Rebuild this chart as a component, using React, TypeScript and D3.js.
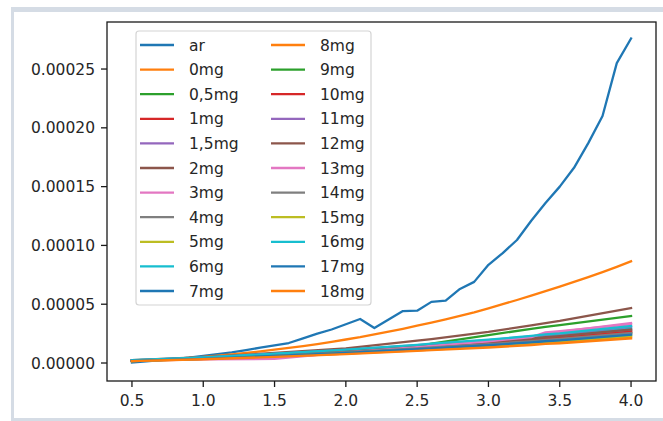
import React from "react";
import * as d3 from "d3";

// x values
const xFine = [0.5, 0.6, 0.7, 0.8, 0.9, 1.0, 1.1, 1.2, 1.3, 1.4, 1.5, 1.6, 1.7, 1.8, 1.9, 2.0, 2.1, 2.2, 2.3, 2.4, 2.5, 2.6, 2.7, 2.8, 2.9, 3.0, 3.1, 3.2, 3.3, 3.4, 3.5, 3.6, 3.7, 3.8, 3.9, 4.0];
const xCoarse = [0.5, 1.0, 1.5, 2.0, 2.5, 2.6, 3.0, 3.3, 3.4, 3.5, 4.0];

// series values
const ar = [0.5e-6, 1.5e-6, 2.5e-6, 3.5e-6, 4.5e-6, 6e-6, 7.5e-6, 9e-6, 11e-6, 13e-6, 15e-6, 17e-6, 21e-6, 25e-6, 28.5e-6, 33e-6, 37.4e-6, 29.8e-6, 37e-6, 44.2e-6, 44.5e-6, 52e-6, 53e-6, 63e-6, 69e-6, 83.5e-6, 93.5e-6, 104.6e-6, 121e-6, 136e-6, 150e-6, 166e-6, 187e-6, 210e-6, 255e-6, 276e-6];
const mg0 = [1.8e-6, 2.3e-6, 2.9e-6, 3.6e-6, 4.4e-6, 5.3e-6, 6.3e-6, 7.4e-6, 8.6e-6, 9.9e-6, 11.3e-6, 12.8e-6, 14.4e-6, 16.1e-6, 18.0e-6, 20.0e-6, 22.0e-6, 24.3e-6, 26.7e-6, 29.1e-6, 31.7e-6, 34.4e-6, 37.2e-6, 40.1e-6, 43.1e-6, 46.5e-6, 50.0e-6, 53.6e-6, 57.3e-6, 61.1e-6, 65.0e-6, 69.0e-6, 73.1e-6, 77.3e-6, 81.8e-6, 86.5e-6];
const mg05 = [2e-6, 4e-6, 6.5e-6, 9.5e-6, 13.5e-6, 16.5e-6, 23.8e-6, 29e-6, 30.8e-6, 32.3e-6, 40e-6];
const mg1 = [2e-6, 4e-6, 6.8e-6, 9.7e-6, 13.2e-6, 14e-6, 17e-6, 19.7e-6, 20.8e-6, 21.6e-6, 27e-6];
const mg15 = [2.1e-6, 4.3e-6, 7.2e-6, 10.4e-6, 14.2e-6, 15.1e-6, 18.3e-6, 21.2e-6, 22.3e-6, 23.2e-6, 29e-6];
const mg2 = [2.5e-6, 5e-6, 8.5e-6, 12.5e-6, 19e-6, 20.3e-6, 26.5e-6, 32e-6, 34e-6, 35.8e-6, 46.8e-6];
const mg3 = [2e-6, 3.5e-6, 5.5e-6, 8e-6, 12e-6, 12.8e-6, 17e-6, 20e-6, 25.5e-6, 26.5e-6, 34e-6];
const mg4 = [2e-6, 4.2e-6, 7e-6, 10e-6, 13.7e-6, 14.6e-6, 17.6e-6, 20.4e-6, 21.6e-6, 22.4e-6, 28e-6];
const mg5 = [1.8e-6, 3.6e-6, 6e-6, 8.6e-6, 11.8e-6, 12.5e-6, 15.1e-6, 17.5e-6, 18.5e-6, 19.2e-6, 24e-6];
const mg6 = [2.2e-6, 4.5e-6, 7.5e-6, 10.8e-6, 14.7e-6, 15.6e-6, 18.9e-6, 21.9e-6, 23.1e-6, 24e-6, 30e-6];
const mg7 = [1.9e-6, 3.8e-6, 6.2e-6, 9e-6, 12.2e-6, 13e-6, 15.8e-6, 18.2e-6, 19.2e-6, 20e-6, 25e-6];
const mg8 = [1.7e-6, 3.3e-6, 5.5e-6, 7.9e-6, 10.8e-6, 11.4e-6, 13.9e-6, 16e-6, 16.9e-6, 17.6e-6, 22e-6];
const mg9 = [1.9e-6, 3.9e-6, 6.5e-6, 9.4e-6, 12.7e-6, 13.5e-6, 16.4e-6, 19e-6, 20e-6, 20.8e-6, 26e-6];
const mg10 = [2e-6, 4e-6, 6.6e-6, 9.5e-6, 13e-6, 13.8e-6, 16.7e-6, 19.3e-6, 20.4e-6, 21.2e-6, 26.5e-6];
const mg11 = [2.3e-6, 4.6e-6, 7.7e-6, 11.1e-6, 15.2e-6, 16.1e-6, 19.5e-6, 22.6e-6, 23.9e-6, 24.8e-6, 31e-6];
const mg12 = [2.1e-6, 4.3e-6, 7.1e-6, 10.3e-6, 14e-6, 14.8e-6, 18e-6, 20.8e-6, 21.9e-6, 22.8e-6, 28.5e-6];
const mg13 = [1.9e-6, 3.2e-6, 3.5e-6, 9e-6, 13.5e-6, 14.5e-6, 18.5e-6, 22e-6, 26e-6, 27e-6, 33e-6];
const mg14 = [1.9e-6, 3.8e-6, 6.4e-6, 9.2e-6, 12.5e-6, 13.3e-6, 16.1e-6, 18.6e-6, 19.6e-6, 20.4e-6, 25.5e-6];
const mg15b = [1.7e-6, 3.5e-6, 5.8e-6, 8.3e-6, 11.3e-6, 12e-6, 14.5e-6, 16.8e-6, 17.7e-6, 18.4e-6, 23e-6];
const mg16 = [2.4e-6, 4.7e-6, 7.9e-6, 11.3e-6, 15.4e-6, 16.4e-6, 19.8e-6, 23e-6, 24.3e-6, 25.2e-6, 31.5e-6];
const mg17 = [1.8e-6, 3.6e-6, 6e-6, 8.6e-6, 11.8e-6, 12.5e-6, 15.1e-6, 17.5e-6, 18.5e-6, 19.2e-6, 24e-6];
const mg18 = [1.6e-6, 3.2e-6, 5.2e-6, 7.6e-6, 10.3e-6, 10.9e-6, 13.2e-6, 15.3e-6, 16.2e-6, 16.8e-6, 21e-6];

const seriesNames = ["ar", "0mg", "0,5mg", "1mg", "1,5mg", "2mg", "3mg", "4mg", "5mg", "6mg", "7mg", "8mg", "9mg", "10mg", "11mg", "12mg", "13mg", "14mg", "15mg", "16mg", "17mg", "18mg"];
const seriesValues = [ar, mg0, mg05, mg1, mg15, mg2, mg3, mg4, mg5, mg6, mg7, mg8, mg9, mg10, mg11, mg12, mg13, mg14, mg15b, mg16, mg17, mg18];

const xTicks = [0.5, 1.0, 1.5, 2.0, 2.5, 3.0, 3.5, 4.0];
const yTicks = [0, 0.00005, 0.0001, 0.00015, 0.0002, 0.00025];
const yLimits = [-0.0000153, 0.00029];

const palette = ["#1f77b4", "#ff7f0e", "#2ca02c", "#d62728", "#9467bd", "#8c564b", "#e377c2", "#7f7f7f", "#bcbd22", "#17becf"];

const W = 663, H = 421;
const M = { left: 107, right: 656, top: 22, bottom: 381 };
const FONT = "DejaVu Sans";
const FS = 15.5;

export default function App() {
  const series = seriesNames.map((name, i) => {
    const ys = seriesValues[i];
    const xs = ys.length === xFine.length ? xFine : xCoarse;
    return { name, color: palette[i % 10], pts: xs.map((x, j) => [x, ys[j]] as [number, number]) };
  });

  const allX = series.flatMap(s => s.pts.map(p => p[0]));
  const [x0, x1] = d3.extent(allX) as [number, number];
  const pad = (x1 - x0) * 0.05;
  const xScale = d3.scaleLinear().domain([x0 - pad, x1 + pad]).range([M.left, M.right]);
  const yScale = d3.scaleLinear().domain(yLimits).range([M.bottom, M.top]);
  const line = d3.line<[number, number]>().x(d => xScale(d[0])).y(d => yScale(d[1]));
  const fmtY = d3.format(".5f");
  const fmtX = d3.format(".1f");

  const legX = 136, legY = 31, legW = 235, rowH = 24.6, perCol = 11;
  const legH = rowH * (perCol - 1) + 28;
  const colOff = 131;

  return (
    <svg width={W} height={H} style={{ position: "absolute", left: 0, top: 0, background: "#fff" }} fontFamily={FONT}>
      <rect x={0} y={0} width={W} height={H} fill="#fff" />
      {/* notebook frame */}
      <rect x={11} y={7} width={W - 11} height={5} fill="#d5dce5" />
      <rect x={11} y={7} width={3} height={H - 7} fill="#d5dce5" />
      <rect x={11} y={418} width={W - 11} height={3} fill="#d5dce5" />

      {/* lines */}
      <g>
        {series.map(s => (
          <path key={s.name} d={line(s.pts) || ""} fill="none" stroke={s.color} strokeWidth={2.3} strokeLinejoin="round" strokeLinecap="square" />
        ))}
      </g>

      {/* spines */}
      <rect x={M.left} y={M.top} width={M.right - M.left} height={M.bottom - M.top} fill="none" stroke="#1a1a1a" strokeWidth={1.3} />

      {/* x axis */}
      {xTicks.map(t => (
        <g key={"x" + t}>
          <line x1={xScale(t)} x2={xScale(t)} y1={M.bottom} y2={M.bottom + 6} stroke="#1a1a1a" strokeWidth={1.3} />
          <text x={xScale(t)} y={M.bottom + 24.5} textAnchor="middle" fontSize={FS} fill="#262626">{fmtX(t)}</text>
        </g>
      ))}
      {/* y axis */}
      {yTicks.map(t => (
        <g key={"y" + t}>
          <line x1={M.left - 6} x2={M.left} y1={yScale(t)} y2={yScale(t)} stroke="#1a1a1a" strokeWidth={1.3} />
          <text x={M.left - 12} y={yScale(t)} dy="0.36em" textAnchor="end" fontSize={FS} fill="#262626">{fmtY(t)}</text>
        </g>
      ))}

      {/* legend */}
      <rect x={legX} y={legY} width={legW} height={legH} rx={3} fill="#fff" fillOpacity={0.8} stroke="#d4d4d4" strokeWidth={1.2} />
      {series.map((s, i) => {
        const col = Math.floor(i / perCol);
        const row = i % perCol;
        const cy = legY + 14 + row * rowH;
        const hx = legX + 4 + col * colOff;
        return (
          <g key={"leg" + s.name}>
            <line x1={hx} x2={hx + 34} y1={cy} y2={cy} stroke={s.color} strokeWidth={2.3} />
            <text x={hx + 49} y={cy} dy="0.36em" fontSize={FS} fill="#262626">{s.name}</text>
          </g>
        );
      })}
    </svg>
  );
}
